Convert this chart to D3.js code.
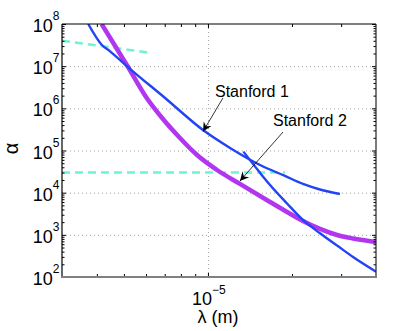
<!DOCTYPE html>
<html>
<head>
<meta charset="utf-8">
<script src="https://cdn.jsdelivr.net/npm/d3@7"></script>
<style>
  body { margin: 0; background: #fff; }
  svg { display: block; font-family: "Liberation Sans", Arial, sans-serif; }
</style>
</head>
<body>
<svg id="chart" width="415" height="331"></svg>
<script>
// [lambda (m), alpha]
const stanford1 = [
  [3.725e-6, 1e8], [4.16e-6, 3.23e7], [4.46e-6, 2.25e7], [5.18e-6, 9.4e6],
  [7.02e-6, 1.76e6], [9.6e-6, 3.06e5], [1.2e-5, 1.15e5], [1.537e-5, 4.53e4],
  [1.888e-5, 2.49e4], [2.19e-5, 1.61e4], [2.52e-5, 1.19e4], [2.97e-5, 9.3e3],
];
const stanford2 = [
  [1.34e-5, 9.4e4], [1.537e-5, 2.95e4], [1.669e-5, 1.52e4], [1.92e-5, 5.54e3],
  [2.19e-5, 2.25e3], [2.52e-5, 1.09e3], [2.9e-5, 559], [3.31e-5, 298],
  [4.0e-5, 134],
];
const purpleCurve = [
  [4.16e-6, 1e8], [5.18e-6, 9.4e6], [6.0e-6, 1.86e6], [6.9e-6, 5.59e5],
  [7.94e-6, 1.98e5], [9.14e-6, 7.83e4], [1.078e-5, 3.45e4], [1.302e-5, 1.61e4],
  [1.669e-5, 6.01e3], [1.92e-5, 3.48e3], [2.19e-5, 2.13e3], [2.52e-5, 1.38e3],
  [2.9e-5, 991], [3.31e-5, 819], [4.0e-5, 676],
];
const dashedUpper = [[3e-6, 4.02e7], [6.29e-6, 2.05e7]];
const dashedLower = [[3e-6, 3e4], [1.888e-5, 3e4]];

const xMajorTicks = [1e-5];
const xMinorTicks = [4e-6, 5e-6, 6e-6, 7e-6, 8e-6, 9e-6, 2e-5, 3e-5];
const yMajorTicks = [1e2, 1e3, 1e4, 1e5, 1e6, 1e7, 1e8];

const annotations = [
  { label: 'Stanford 1', text: [1.06e-5, 1.89e6], from: [1.132e-5, 1.76e6], to: [9.6e-6, 2.82e5] },
  { label: 'Stanford 2', text: [1.71e-5, 3.81e5], from: [1.858e-5, 2.75e5], to: [1.302e-5, 1.89e4] },
];

function render() {
  const margin = { top: 24, right: 39, bottom: 54, left: 62 };
  const width = 415 - margin.left - margin.right;
  const height = 331 - margin.top - margin.bottom;

  const svg = d3.select('#chart');
  const g = svg.append('g').attr('transform', `translate(${margin.left},${margin.top})`);

  const x = d3.scaleLog().domain([3e-6, 4e-5]).range([0, width]);
  const y = d3.scaleLog().domain([1e2, 1e8]).range([height, 0]);

  const yMinorTicks = [];
  for (let p = 2; p < 8; p++) {
    for (let k = 2; k <= 9; k++) yMinorTicks.push(k * Math.pow(10, p));
  }

  // grid
  const grid = g.append('g').attr('class', 'grid');
  grid.append('g')
    .call(d3.axisLeft(y).tickValues(yMajorTicks.slice(1, -1)).tickSize(-width).tickFormat(''))
    .call(a => a.select('.domain').remove());
  grid.append('g').attr('transform', `translate(0,${height})`)
    .call(d3.axisBottom(x).tickValues(xMajorTicks).tickSize(-height).tickFormat(''))
    .call(a => a.select('.domain').remove());
  grid.selectAll('line')
    .attr('stroke', '#a0a0a0').attr('stroke-width', 1).attr('stroke-dasharray', '1,3');

  // curves
  g.append('clipPath').attr('id', 'clip')
    .append('rect').attr('width', width).attr('height', height);
  const plot = g.append('g').attr('clip-path', 'url(#clip)');
  const line = d3.line().x(d => x(d[0])).y(d => y(d[1]));
  const smooth = d3.line().x(d => x(d[0])).y(d => y(d[1])).curve(d3.curveMonotoneX);

  [dashedUpper, dashedLower].forEach(data => {
    plot.append('path').datum(data).attr('d', line)
      .attr('fill', 'none').attr('stroke', '#6ef3d4')
      .attr('stroke-width', 2.5).attr('stroke-dasharray', '8,5');
  });
  plot.append('path').datum(purpleCurve).attr('d', smooth)
    .attr('fill', 'none').attr('stroke', '#b236f0').attr('stroke-width', 4.5)
    .attr('stroke-linejoin', 'round');
  [stanford1, stanford2].forEach(data => {
    plot.append('path').datum(data).attr('d', smooth)
      .attr('fill', 'none').attr('stroke', '#2244f5').attr('stroke-width', 2.4)
      .attr('stroke-linejoin', 'round');
  });

  // axes: ticks point inward on all four sides
  const addAxis = (axisFn, scale, ticks, size, transform) => {
    const a = g.append('g').attr('transform', transform || null)
      .call(axisFn(scale).tickValues(ticks).tickSize(size).tickSizeOuter(0).tickFormat(''));
    a.select('.domain').remove();
    a.selectAll('.tick line').attr('stroke', '#000');
    a.selectAll('.tick text').remove();
    return a;
  };
  addAxis(d3.axisLeft, y, yMajorTicks, -4);
  addAxis(d3.axisLeft, y, yMinorTicks, -2.5);
  addAxis(d3.axisRight, y, yMajorTicks, -4, `translate(${width},0)`);
  addAxis(d3.axisRight, y, yMinorTicks, -2.5, `translate(${width},0)`);
  addAxis(d3.axisTop, x, xMajorTicks, -4);
  addAxis(d3.axisTop, x, xMinorTicks, -3);
  addAxis(d3.axisBottom, x, xMajorTicks, -4, `translate(0,${height})`);
  addAxis(d3.axisBottom, x, xMinorTicks, -3, `translate(0,${height})`);

  // box
  g.append('line').attr('x1', 0).attr('x2', width).attr('y1', 0).attr('y2', 0)
    .attr('stroke', '#000').attr('stroke-width', 1.2);
  g.append('line').attr('x1', 0).attr('x2', 0).attr('y1', 0).attr('y2', height)
    .attr('stroke', '#000').attr('stroke-width', 1.2);
  g.append('line').attr('x1', width).attr('x2', width).attr('y1', 0).attr('y2', height)
    .attr('stroke', '#222').attr('stroke-width', 1.2);
  g.append('line').attr('x1', -1).attr('x2', width + 1).attr('y1', height).attr('y2', height)
    .attr('stroke', '#808080').attr('stroke-width', 2);

  // tick labels
  const yLabels = g.append('g').selectAll('text').data(yMajorTicks).enter().append('text')
    .attr('x', -2.5).attr('y', d => y(d) + 8)
    .attr('text-anchor', 'end').attr('fill', '#000').style('font-size', '18px');
  yLabels.append('tspan').text('10');
  yLabels.append('tspan').attr('dy', -12).style('font-size', '12px')
    .text(d => Math.round(Math.log10(d)));

  const xLabels = g.append('g').selectAll('text').data(xMajorTicks).enter().append('text')
    .attr('x', d => x(d) + 1).attr('y', height + 28)
    .attr('text-anchor', 'middle').attr('fill', '#000').style('font-size', '18px');
  xLabels.append('tspan').text('10');
  xLabels.append('tspan').attr('dy', -11.5).style('font-size', '12px')
    .text(d => String(Math.round(Math.log10(d))).replace('-', '\u2212'));

  // axis titles
  g.append('text')
    .attr('x', width / 2 - 1).attr('y', height + 46)
    .attr('text-anchor', 'middle').style('font-size', '18px').text('λ (m)');
  g.append('text')
    .attr('transform', `translate(${-44},${height / 2 - 2}) rotate(-90)`)
    .attr('text-anchor', 'middle').style('font-size', '20px').text('α');

  // annotations
  annotations.forEach(a => {
    const x0 = x(a.from[0]), y0 = y(a.from[1]);
    const x1 = x(a.to[0]), y1 = y(a.to[1]);
    g.append('line').attr('x1', x0).attr('y1', y0).attr('x2', x1).attr('y2', y1)
      .attr('stroke', '#000').attr('stroke-width', 0.8);
    const ang = Math.atan2(y1 - y0, x1 - x0);
    const len = 9, half = 4.5, notch = 6;
    const pt = (l, w) => [x1 - l * Math.cos(ang) - w * Math.sin(ang), y1 - l * Math.sin(ang) + w * Math.cos(ang)];
    g.append('path')
      .attr('d', d3.line()([[x1, y1], pt(len, half), pt(notch, 0), pt(len, -half)]) + 'Z')
      .attr('fill', '#000');
    g.append('text').attr('x', x(a.text[0])).attr('y', y(a.text[1]))
      .style('font-size', '16px').attr('fill', '#000').text(a.label);
  });
}

render();
</script>
</body>
</html>
